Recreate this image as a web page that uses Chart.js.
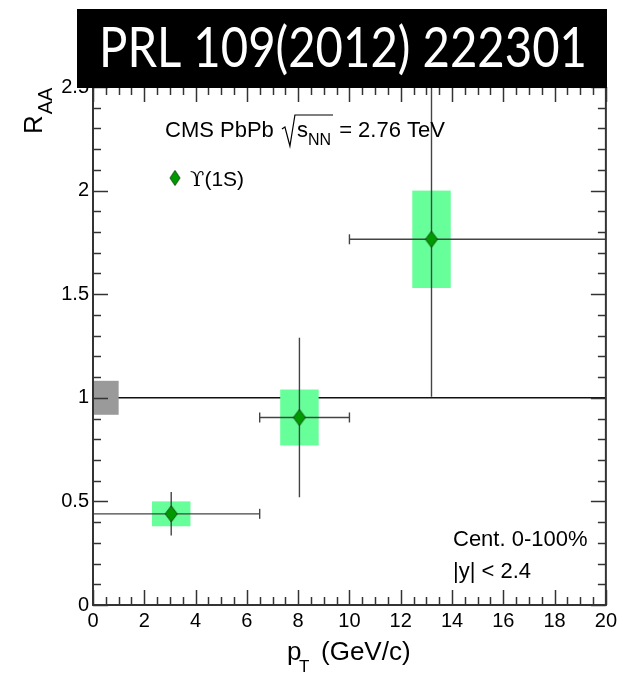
<!DOCTYPE html>
<html>
<head>
<meta charset="utf-8">
<script src="https://cdn.jsdelivr.net/npm/chart.js@4.4.1/dist/chart.umd.min.js"></script>
<style>
  html,body{margin:0;padding:0;background:#fff;}
  #wrap{position:relative;width:621px;height:673px;}
</style>
</head>
<body>
<div id="wrap"><canvas id="raa"></canvas></div>
<script>
// Upsilon(1S) R_AA vs pT, PbPb 2.76 TeV, 0-100%
const ptCenter  = [3.05, 8.05, 13.2];
const ptLow     = [0, 6.5, 10];
const ptHigh    = [6.5, 10, 20];
const raa       = [0.44, 0.905, 1.765];
const statErr   = [0.105, 0.385, 0.76];
const systErr   = [0.06, 0.135, 0.235];
const systHalfW = [0.75, 0.75, 0.75];

// global uncertainty box drawn at R_AA = 1
const globalSyst  = [0.082];
const globalRange = [0, 1];

const xMajor = [0, 2, 4, 6, 8, 10, 12, 14, 16, 18, 20];
const yMajor = [0, 0.5, 1, 1.5, 2, 2.5];
const xMinorStep = 0.5, yMinorStep = 0.1;

const SANS = "'Liberation Sans', Arial, Helvetica, sans-serif";
const AXIS = '#333';

// ROOT style diamond marker
function diamond(w, h){
  const c = document.createElement('canvas');
  c.width = w + 2; c.height = h + 2;
  const g = c.getContext('2d');
  const cx = c.width/2, cy = c.height/2;
  g.beginPath();
  g.moveTo(cx, 1); g.lineTo(c.width-1, cy); g.lineTo(cx, c.height-1); g.lineTo(1, cy);
  g.closePath();
  g.fillStyle = '#009a00'; g.fill();
  g.strokeStyle = '#124d12'; g.lineWidth = 1; g.stroke();
  return c;
}
const marker = diamond(12, 16);
const legendMarker = diamond(10, 15);

function seg(ctx, x1, y1, x2, y2){
  ctx.beginPath(); ctx.moveTo(x1, y1); ctx.lineTo(x2, y2); ctx.stroke();
}

const bandsAndBars = {
  id: 'bandsAndBars',
  beforeDatasetsDraw(chart){
    const {ctx, chartArea:{left,right,top,bottom}, scales:{x,y}} = chart;
    ctx.save();
    ctx.beginPath(); ctx.rect(left, top, right-left, bottom-top); ctx.clip();

    // reference line at unity
    ctx.strokeStyle = '#111'; ctx.lineWidth = 1.5;
    seg(ctx, x.getPixelForValue(0), y.getPixelForValue(1), x.getPixelForValue(20), y.getPixelForValue(1));

    // global uncertainty
    ctx.fillStyle = '#9a9a9a';
    const gx0 = x.getPixelForValue(globalRange[0]), gx1 = x.getPixelForValue(globalRange[1]);
    const gy0 = y.getPixelForValue(1 + globalSyst[0]), gy1 = y.getPixelForValue(1 - globalSyst[0]);
    ctx.fillRect(gx0, gy0, gx1-gx0, gy1-gy0);

    // systematic boxes
    ctx.fillStyle = '#66ff99';
    raa.forEach((v, i) => {
      const x0 = x.getPixelForValue(ptCenter[i]-systHalfW[i]), x1 = x.getPixelForValue(ptCenter[i]+systHalfW[i]);
      const y0 = y.getPixelForValue(v+systErr[i]), y1 = y.getPixelForValue(v-systErr[i]);
      ctx.fillRect(x0, y0, x1-x0, y1-y0);
    });

    // statistical errors and bin widths
    ctx.strokeStyle = '#444'; ctx.lineWidth = 1.4;
    raa.forEach((v, i) => {
      const px = x.getPixelForValue(ptCenter[i]), py = y.getPixelForValue(v);
      seg(ctx, px, y.getPixelForValue(v+statErr[i]), px, y.getPixelForValue(v-statErr[i]));
      const xl = x.getPixelForValue(ptLow[i]), xh = x.getPixelForValue(ptHigh[i]);
      seg(ctx, xl, py, xh, py);
      seg(ctx, xl, py-5, xl, py+5);
      seg(ctx, xh, py-5, xh, py+5);
    });
    ctx.restore();
  },
  afterDatasetsDraw(chart){
    const {ctx, chartArea:{left,right,top,bottom}, scales:{x,y}} = chart;
    ctx.save();
    ctx.strokeStyle = AXIS; ctx.lineWidth = 1.5;
    // inward ticks on all four sides
    for (let k = 0; k <= Math.round(20/xMinorStep); k++){
      const v = k*xMinorStep;
      const len = xMajor.includes(v) ? 15 : 8;
      const px = Math.round(x.getPixelForValue(v)) + 0.5;
      seg(ctx, px, bottom, px, bottom-len);
      seg(ctx, px, top, px, top+len);
    }
    for (let k = 0; k <= Math.round(2.5/yMinorStep); k++){
      const v = +(k*yMinorStep).toFixed(2);
      const len = yMajor.includes(v) ? 15 : 8;
      const py = Math.round(y.getPixelForValue(v)) + 0.5;
      seg(ctx, left, py, left+len, py);
      seg(ctx, right, py, right-len, py);
    }
    ctx.lineWidth = 2;
    ctx.strokeRect(left, top, right-left, bottom-top);
    ctx.restore();
  },
  afterDraw(chart){
    const {ctx} = chart;
    ctx.save();
    ctx.fillStyle = '#000';
    ctx.textBaseline = 'alphabetic';

    // x title: p_T (GeV/c)
    ctx.font = `26px ${SANS}`; ctx.fillText('p', 287, 660);
    ctx.font = `17px ${SANS}`; ctx.fillText('T', 299, 672);
    ctx.font = `26px ${SANS}`; ctx.fillText('(GeV/c)', 321, 660);

    // y title: R_AA, rotated, ending at the top of the axis
    ctx.save();
    ctx.translate(42, 134);
    ctx.rotate(-Math.PI/2);
    ctx.font = `26px ${SANS}`;
    ctx.fillText('R', 0, 0);
    const wR = ctx.measureText('R').width;
    ctx.font = `20px ${SANS}`;
    ctx.fillText('AA', wR + 1, 10);
    ctx.restore();

    // CMS PbPb sqrt(s_NN) = 2.76 TeV
    let cx = 165; const by = 137;
    ctx.font = `22px ${SANS}`;
    ctx.fillText('CMS PbPb', cx, by); cx += ctx.measureText('CMS PbPb ').width + 2;
    const rx = cx;
    cx += 15;
    ctx.fillText('s', cx, by); cx += ctx.measureText('s').width;
    ctx.font = `16px ${SANS}`;
    ctx.fillText('NN', cx, by + 8); cx += ctx.measureText('NN').width + 2;
    ctx.strokeStyle = '#000'; ctx.lineWidth = 1.2;
    ctx.beginPath();
    ctx.moveTo(rx, by-8); ctx.lineTo(rx+3, by-10); ctx.lineTo(rx+8, by+9);
    ctx.lineTo(rx+13, by-22); ctx.lineTo(cx, by-22);
    ctx.stroke();
    ctx.font = `22px ${SANS}`;
    ctx.fillText(' = 2.76 TeV', cx, by);

    // legend entry
    ctx.drawImage(legendMarker, 175 - legendMarker.width/2, 178 - legendMarker.height/2);
    ctx.font = "21px 'DejaVu Serif', serif";
    ctx.fillText('ϒ', 190, 186);
    const wu = ctx.measureText('ϒ').width;
    ctx.font = `21px ${SANS}`;
    ctx.fillText('(1S)', 190 + wu, 186);

    // selection labels
    ctx.font = `22px ${SANS}`;
    ctx.fillText('Cent. 0-100%', 453, 546);
    ctx.fillText('|y| < 2.4', 453, 578);

    // journal reference banner
    ctx.fillStyle = '#000';
    ctx.fillRect(77, 9, 530, 79);
    ctx.fillStyle = '#fff';
    ctx.font = "56px Lato, 'Open Sans', sans-serif";
    ctx.textAlign = 'center';
    ctx.fillText('PRL 109(2012) 222301', 343, 67, 488);
    ctx.restore();
  }
};

Chart.defaults.font.family = SANS;
Chart.defaults.color = '#000';

new Chart(document.getElementById('raa'), {
  type: 'scatter',
  data: {
    datasets: [{
      label: 'ϒ(1S)',
      data: ptCenter.map((v, i) => ({x: v, y: raa[i]})),
      pointStyle: marker,
      pointRadius: 8,
      clip: false
    }]
  },
  options: {
    responsive: true,
    maintainAspectRatio: false,
    animation: false,
    devicePixelRatio: 1,
    events: [],
    layout: {padding: {left: 0, right: 14, top: 87, bottom: 0}},
    plugins: {legend: {display: false}, tooltip: {enabled: false}},
    scales: {
      x: {
        type: 'linear', min: 0, max: 20,
        afterBuildTicks: s => { s.ticks = xMajor.map(v => ({value: v})); },
        afterFit: s => { s.height = 68; },
        grid: {display: false, drawTicks: false},
        border: {display: false},
        ticks: {font: {size: 20}, color: '#000', padding: 4, maxRotation: 0, autoSkip: false,
                callback: v => String(v)}
      },
      y: {
        type: 'linear', min: 0, max: 2.5,
        afterBuildTicks: s => { s.ticks = yMajor.map(v => ({value: v})); },
        afterFit: s => { s.width = 93; },
        grid: {display: false, drawTicks: false},
        border: {display: false},
        ticks: {font: {size: 20}, color: '#000', padding: 4, autoSkip: false,
                callback: v => String(v)}
      }
    }
  },
  plugins: [bandsAndBars]
});
</script>
</body>
</html>
